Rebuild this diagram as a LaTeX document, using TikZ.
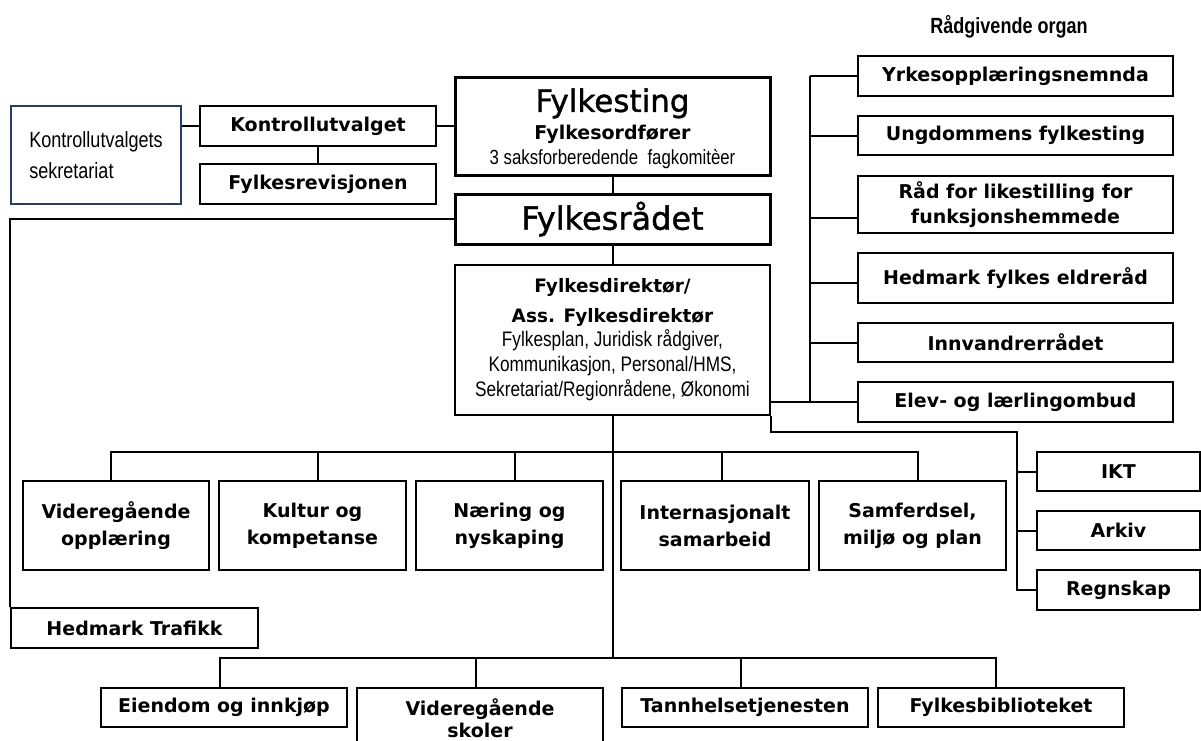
\documentclass[tikz,border=0pt]{standalone}
\usepackage{fontspec}
\setmainfont{DejaVu Sans}
\newfontfamily\nar[FakeStretch=0.82]{Liberation Sans}
\newfontfamily\semib[FakeBold=1.2]{DejaVu Sans}
\usetikzlibrary{calc}
\definecolor{navy}{HTML}{243F60}
\begin{document}
\begin{tikzpicture}[x=1pt,y=-1pt,
  box/.style={draw, line width=2pt, inner sep=0pt, align=center,
    font=\bfseries\fontsize{19}{27}\selectfont},
  thickbox/.style={box, line width=3pt},
  thinbox/.style={box, line width=1.6pt},
  conn/.style={line width=2pt}]
\useasboundingbox (0,0) rectangle (1201,740);
\clip (0,0) rectangle (1201,740);

% top-left
\node[draw=navy, line width=1.5pt, minimum width=170, minimum height=98, align=left,
  inner sep=0pt, font=\nar\fontsize{22}{31}\selectfont] (sek) at (96,155)
  {Kontrollutvalgets\\sekretariat};
\node[box, minimum width=236, minimum height=40] (kon) at (318,126) {Kontrollutvalget};
\node[box, minimum width=236, minimum height=40] (rev) at (318,184) {Fylkesrevisjonen};

% centre column
\node[thickbox, minimum width=315, minimum height=98] (ting) at (612.5,126)
  {{\semib\mdseries\fontsize{31}{34}\selectfont\rule{0pt}{29pt}Fylkesting}\\[1pt]
   Fylkesordfører\\[-2pt]
   {\mdseries\nar\fontsize{20.5}{22}\selectfont 3 saksforberedende\ \ fagkomitèer}};
\node[thickbox, minimum width=315, minimum height=50, font=\semib\fontsize{32}{34}\selectfont] (raad) at (612.5,219) {Fylkesrådet};
\node[thinbox, minimum width=315, minimum height=150, font=\bfseries\fontsize{18.5}{26}\selectfont] (dir) at (612.5,340)
  {Fylkesdirektør/\\[4pt]
   Ass. Fylkesdirektør\\[-2pt]
   {\mdseries\nar\fontsize{21}{25}\selectfont Fylkesplan, Juridisk rådgiver,}\\[-1pt]
   {\mdseries\nar\fontsize{21}{25}\selectfont Kommunikasjon, Personal/HMS,}\\[-1pt]
   {\mdseries\nar\fontsize{21}{25}\selectfont Sekretariat/Regionrådene, Økonomi}};

% advisory bodies
\node[font=\nar\bfseries\fontsize{22}{24}\selectfont] (rg) at (1009,27) {Rådgivende organ};
\node[box, minimum width=315, minimum height=40] (yrke) at (1015.5,76) {Yrkesopplæringsnemnda};
\node[box, minimum width=315, minimum height=39] (ung) at (1015.5,135.5) {Ungdommens fylkesting};
\node[box, minimum width=315, minimum height=57] (lik) at (1015.5,204.5) {Råd for likestilling for\\[-2pt]funksjonshemmede};
\node[box, minimum width=315, minimum height=50] (eldre) at (1015.5,278) {Hedmark fylkes eldreråd};
\node[box, minimum width=315, minimum height=39] (innv) at (1015.5,342.5) {Innvandrerrådet};
\node[box, minimum width=315, minimum height=40] (elev) at (1015.5,402) {Elev- og lærlingombud};

% staff units
\node[box, minimum width=163, minimum height=39] (ikt) at (1118.5,471.5) {IKT};
\node[box, minimum width=163, minimum height=39] (ark) at (1118.5,530.5) {Arkiv};
\node[box, minimum width=163, minimum height=40] (regn) at (1118.5,590) {Regnskap};

% sectors
\node[box, minimum width=186, minimum height=89] (v1) at (116,525.5) {Videregående\\opplæring};
\node[box, minimum width=187, minimum height=89] (v2) at (312.5,525.5) {Kultur og\\kompetanse};
\node[box, minimum width=187, minimum height=89] (v3) at (509.5,525.5) {Næring og\\nyskaping};
\node[box, minimum width=188, minimum height=89] (v4) at (715,525.5) {Internasjonalt\\samarbeid};
\node[box, minimum width=187, minimum height=89] (v5) at (912.5,525.5) {Samferdsel,\\miljø og plan};

\node[box, line width=2.5pt, minimum width=247, minimum height=40] (traf) at (134.5,628) {Hedmark Trafikk};

% bottom row
\node[box, minimum width=246, minimum height=39] (eien) at (224,707.5) {Eiendom og innkjøp};
\node[box, minimum width=246, minimum height=60] (vgs) at (480,718) {Videregående\\[-5pt]skoler};
\node[box, minimum width=246, minimum height=39] (tann) at (745,707.5) {Tannhelsetjenesten};
\node[box, minimum width=246, minimum height=39] (bib) at (1001,707.5) {Fylkesbiblioteket};

% connectors, top-left
\draw[conn] (sek.east |- kon.west) -- (kon.west);
\draw[conn] (kon.south) -- (rev.north);
\draw[conn] (kon.east) -- (ting.west |- kon.east);
\draw[conn] (ting.south) -- (raad.north);
\draw[conn] (raad.south) -- (dir.north);
\draw[conn] (raad.west) -| (traf.north west);

% advisory spine
\coordinate (sp) at (810,0);
\coordinate (likb) at ([yshift=-13.5pt]lik.west);
\coordinate (eldb) at ([yshift=-5pt]eldre.west);
\draw[conn] (dir.east |- elev.west) -- (elev.west);
\draw[conn] (sp |- yrke.west) -- (sp |- elev.west);
\draw[conn] (sp |- yrke.west) -- (yrke.west);
\draw[conn] (sp |- ung.west) -- (ung.west);
\draw[conn] (sp |- likb) -- (likb);
\draw[conn] (sp |- eldb) -- (eldb);
\draw[conn] (sp |- innv.west) -- (innv.west);

% staff spine
\coordinate (ik) at (1017,432);
\draw[conn] (dir.south east) -- (dir.south east |- ik) -- (ik) -- (ik |- regn.west) -- (regn.west);
\draw[conn] (ik |- ikt.west) -- (ikt.west);
\draw[conn] (ik |- ark.west) -- (ark.west);

% sector bus
\coordinate (mb) at (0,452);
\coordinate (bb) at (0,658);
\coordinate (d1) at ([xshift=-5pt]v1.north);
\coordinate (d2) at ([xshift=5.5pt]v2.north);
\coordinate (d3) at ([xshift=5.5pt]v3.north);
\coordinate (d4) at ([xshift=7pt]v4.north);
\coordinate (d5) at ([xshift=5.5pt]v5.north);
\draw[conn] (dir.south) -- (dir.south |- bb);
\draw[conn] (d1) |- (d5 |- mb) -- (d5);
\draw[conn] (d2) -- (d2 |- mb);
\draw[conn] (d3) -- (d3 |- mb);
\draw[conn] (d4) -- (d4 |- mb);

% bottom bus
\coordinate (e1) at ([xshift=-4pt]eien.north);
\coordinate (e2) at ([xshift=-4pt]vgs.north);
\coordinate (e3) at ([xshift=-4pt]tann.north);
\coordinate (e4) at ([xshift=-5pt]bib.north);
\draw[conn] (e1) |- (e4 |- bb) -- (e4);
\draw[conn] (e2) -- (e2 |- bb);
\draw[conn] (e3) -- (e3 |- bb);
\end{tikzpicture}
\end{document}
